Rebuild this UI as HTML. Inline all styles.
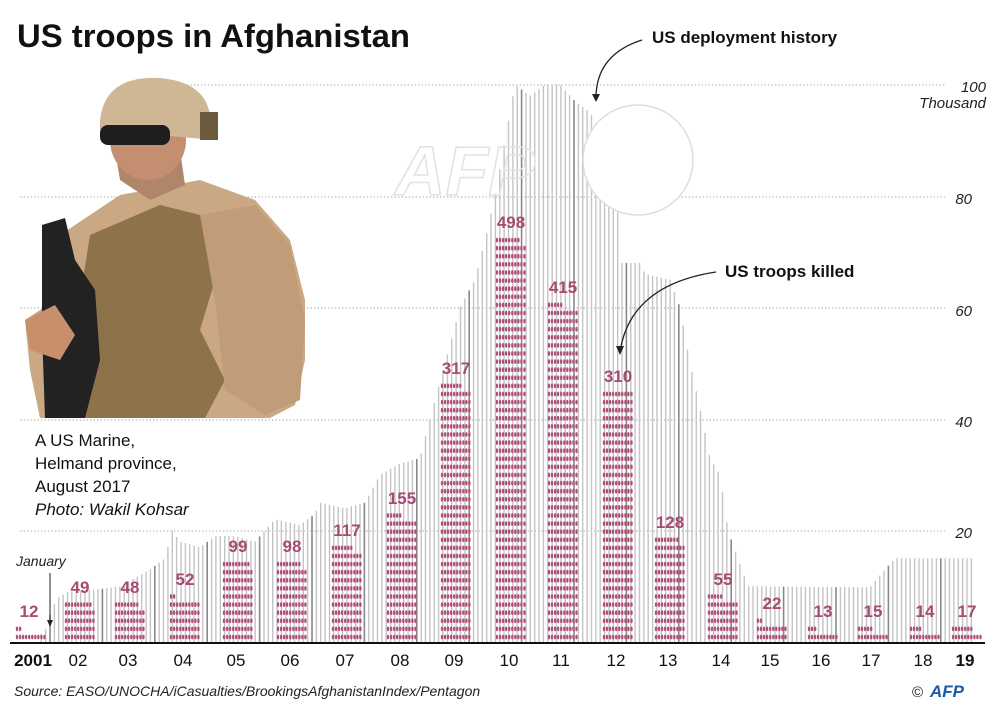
<!DOCTYPE html>
<html><head><meta charset="utf-8"><style>
html,body{margin:0;padding:0;background:#fff;}
svg{display:block;font-family:"Liberation Sans",sans-serif;}
</style></head><body>
<svg id="s" width="1000" height="712" viewBox="0 0 1000 712" xmlns="http://www.w3.org/2000/svg">
<rect width="1000" height="712" fill="#fff"/>
<g id="grid" stroke="#aaa" stroke-width="1" stroke-dasharray="1.5,2">
<line x1="180" y1="85" x2="945" y2="85"/>
<line x1="20" y1="197" x2="945" y2="197"/>
<line x1="20" y1="308" x2="945" y2="308"/>
<line x1="20" y1="420" x2="945" y2="420"/>
<line x1="20" y1="531" x2="945" y2="531"/>
</g>
<g id="bars"></g>
<g id="dots" fill="#b0507a"></g>
<!-- watermark -->
<circle cx="638" cy="160" r="55" fill="#fff" stroke="#ddd" stroke-width="1.5"/>
<text x="465" y="195" font-size="70" font-weight="bold" font-style="italic" fill="none" stroke="#e2e2e2" stroke-width="1.5" text-anchor="middle">AFP</text>
<g id="labels" fill="#a84a73" font-weight="bold" font-size="17" text-anchor="middle"></g>
<!-- soldier -->
<g>
<path d="M60,235 L120,195 L200,180 L255,200 L290,240 L305,300 L305,360 L295,405 L270,418 L40,418 L30,370 L25,320 L55,300 Z" fill="#c9a883"/>
<path d="M90,235 L160,205 L200,215 L215,280 L200,330 L225,380 L205,418 L70,418 L75,330 Z" fill="#8e7249"/>
<path d="M200,215 L255,205 L290,245 L305,320 L300,400 L265,415 L225,390 L215,300 Z" fill="#c09c78"/>
<path d="M42,225 L65,218 L75,260 L95,290 L100,360 L85,418 L45,418 L42,330 Z" fill="#222"/>
<path d="M25,320 L55,305 L75,335 L60,360 L30,350 Z" fill="#c88f6c"/>
<path d="M120,180 L150,200 L185,185 L180,150 L115,150 Z" fill="#b0866a"/>
<ellipse cx="148" cy="140" rx="38" ry="40" fill="#c48f70"/>
<path d="M100,120 Q105,75 160,78 Q205,82 210,115 L215,140 L100,130 Z" fill="#cfb796"/>
<rect x="100" y="125" width="70" height="20" rx="8" fill="#1e1e1e"/>
<rect x="200" y="112" width="18" height="28" fill="#6b5a3c"/>
</g>
<!-- annotations -->
<path d="M642,40 Q595,55 596,100" fill="none" stroke="#222" stroke-width="1.3"/>
<path d="M592,94 L596,102 L600,94" fill="#222"/>
<text x="652" y="43" font-size="17" font-weight="bold" fill="#111">US deployment history</text>
<path d="M716,272 Q630,285 620,352" fill="none" stroke="#222" stroke-width="1.3"/>
<path d="M616,346 L620,355 L624,346" fill="#222"/>
<text x="725" y="277" font-size="17" font-weight="bold" fill="#111">US troops killed</text>
<!-- title -->
<text x="17" y="47" font-size="32" font-weight="bold" fill="#111" textLength="393" lengthAdjust="spacingAndGlyphs">US troops in Afghanistan</text>
<!-- y labels -->
<g font-size="15" font-style="italic" fill="#222" text-anchor="end">
<text x="986" y="92">100</text>
<text x="986" y="108">Thousand</text>
<text x="972" y="204">80</text>
<text x="972" y="316">60</text>
<text x="972" y="427">40</text>
<text x="972" y="538">20</text>
</g>
<!-- caption -->
<g font-size="17" fill="#111">
<text x="35" y="446">A US Marine,</text>
<text x="35" y="469">Helmand province,</text>
<text x="35" y="492">August 2017</text>
<text x="35" y="515" font-style="italic">Photo: Wakil Kohsar</text>
</g>
<text x="16" y="566" font-size="14" font-style="italic" fill="#222">January</text>
<line x1="50" y1="573" x2="50" y2="626" stroke="#222" stroke-width="1"/>
<path d="M47,620 L50,627 L53,620" fill="#222"/>
<!-- axis -->
<line x1="10" y1="643" x2="985" y2="643" stroke="#111" stroke-width="2"/>
<g id="years" font-size="17" fill="#111" text-anchor="middle"></g>
<text x="14" y="696" font-size="14" font-style="italic" fill="#222">Source: EASO/UNOCHA/iCasualties/BrookingsAfghanistanIndex/Pentagon</text>
<text x="912" y="697" font-size="15" fill="#222">©</text>
<text x="930" y="697" font-size="17" font-weight="bold" font-style="italic" fill="#1a5aa8">AFP</text>
</svg>
<script>
(function(){
var NS="http://www.w3.org/2000/svg";
function el(p,t,a,txt){var e=document.createElementNS(NS,t);for(var k in a)e.setAttribute(k,a[k]);if(txt!=null)e.textContent=txt;document.getElementById(p).appendChild(e);return e;}
var pts=[[38,1],[45,2],[52,6],[58,8],[68,9],[100,9.5],[120,10],[150,13],[165,15],[172,20],[180,18],[200,17],[215,19],[235,19],[255,18],[265,20],[275,22],[300,21],[315,23],[320,25],[345,24],[365,25],[380,30],[400,32],[420,33],[430,40],[445,50],[460,60],[475,65],[485,72],[495,80],[505,90],[515,100],[530,98],[545,100],[560,100],[575,97],[590,95],[605,90],[620,85],[622,68],[640,68],[645,66],[670,65],[680,60],[690,50],[700,42],[710,33],[720,30],[728,20],[740,14],[748,10],[870,9.8],[880,12],[890,14],[895,15],[975,15]];
function val(x){for(var i=0;i<pts.length-1;i++){if(x>=pts[i][0]&&x<=pts[i+1][0]){var t=(x-pts[i][0])/(pts[i+1][0]-pts[i][0]);return pts[i][1]+t*(pts[i+1][1]-pts[i][1]);}}return 0;}
var step=52.4/12;
for(var m=-2;m<230;m++){var x=50+m*step;if(x<38||x>976)continue;var v=val(x);var dark=(m%12===0);
el("bars","line",{x1:x.toFixed(1),y1:643,x2:x.toFixed(1),y2:(642-v*5.575).toFixed(1),stroke:dark?"#888":"#c4c4c4","stroke-width":dark?1.6:1.4});}
var yrs=["2001","02","03","04","05","06","07","08","09","10","11","12","13","14","15","16","17","18","19"];
var cx=[31,80,130,185,238,292,347,402,456,511,563,618,670,723,772,823,873,925,967];
var d=[12,49,48,52,99,98,117,155,317,498,415,310,128,55,22,13,15,14,17];
for(var i=0;i<19;i++){var n=d[i];var rows=Math.ceil(n/10);var x0=cx[i]-14;
for(var k=0;k<n;k++){var r=Math.floor(k/10),c=k%10;var y=637-r*8.1;
el("dots","ellipse",{cx:(x0+c*3.05).toFixed(1),cy:y.toFixed(1),rx:1.2,ry:2.4});}
var topY=637-(rows-1)*8.1;
el("labels","text",{x:cx[i]-(i==0?2:0),y:(topY-12).toFixed(0)},String(n));
var a={x:(i==0?33:cx[i]-2),y:666};if(i==0||i==18)a["font-weight"]="bold";
el("years","text",a,yrs[i]);}
})();
</script>
</body></html>
